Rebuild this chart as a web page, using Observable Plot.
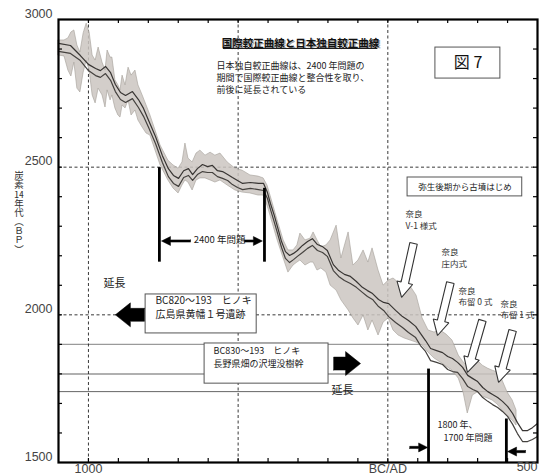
<!DOCTYPE html>
<html><head><meta charset="utf-8">
<script src="https://cdn.jsdelivr.net/npm/d3@7"></script>
<script src="https://cdn.jsdelivr.net/npm/@observablehq/plot@0.6"></script>
<style>
body{margin:0;background:#fff;}
#wrap{position:relative;width:552px;height:475px;}
#ylabel{position:absolute;left:13px;top:171px;width:12px;writing-mode:vertical-rl;
  font-family:'Noto Sans CJK JP',sans-serif;font-size:9.5px;line-height:12px;letter-spacing:-0.4px;color:#333;}
#ylabel .tcy{text-combine-upright:all;}
</style>
</head><body><div id="wrap"><div id="chart"></div><div id="ylabel"></div></div>
<script>
// ---- data (calendar year: BC negative; radiocarbon age BP) ----
const curveYears = [-1100,-1060,-1027,-1000,-976,-960,-943,-926,-910,-893,-876,-853,-833,-816,-799,-776,-753,-733,-716,-699,-682,-666,-652,-636,-619,-602,-586,-569,-552,-535,-519,-502,-485,-459,-432,-415,-402,-392,-379,-368,-355,-342,-328,-315,-302,-285,-268,-252,-235,-218,-202,-182,-164,-145,-125,-105,-85,-68,-51,-31,-14,3,26,49,69,93,109,126,143,163,183,200,216,233,250,267,284,300,317,334,350,367,383,400,417,433,450,467,483,500];
const curveUpper = [2919,2912,2878,2848,2834,2827,2841,2820,2780,2753,2743,2756,2729,2699,2658,2604,2539,2495,2472,2462,2488,2495,2475,2495,2509,2502,2506,2488,2485,2475,2465,2455,2445,2448,2445,2445,2414,2377,2336,2296,2248,2214,2201,2208,2218,2235,2248,2258,2238,2231,2218,2170,2150,2137,2130,2113,2093,2082,2072,2052,2042,2038,2015,1994,1981,1961,1937,1913,1886,1879,1872,1859,1852,1839,1822,1795,1784,1774,1754,1740,1730,1720,1707,1690,1666,1635,1608,1608,1618,1632];
const curveLower = [2892,2885,2861,2827,2810,2804,2817,2794,2756,2729,2719,2732,2702,2672,2634,2580,2516,2468,2445,2435,2465,2472,2455,2475,2485,2482,2482,2468,2462,2455,2441,2431,2424,2428,2424,2421,2394,2357,2313,2275,2228,2191,2177,2187,2198,2211,2225,2235,2218,2211,2198,2150,2130,2116,2106,2093,2076,2062,2052,2028,2015,1994,1974,1957,1940,1923,1896,1876,1845,1839,1832,1815,1808,1805,1784,1757,1747,1740,1720,1707,1696,1686,1673,1656,1629,1598,1571,1571,1578,1588];

const bandYears = [-1100,-1080,-1067,-1057,-1047,-1037,-1027,-1016,-1006,-996,-986,-976,-966,-953,-943,-936,-926,-920,-910,-900,-893,-886,-876,-866,-856,-843,-833,-819,-806,-793,-759,-733,-716,-699,-686,-676,-666,-652,-639,-626,-609,-592,-576,-559,-535,-509,-485,-459,-432,-415,-402,-392,-368,-348,-332,-315,-302,-292,-275,-258,-248,-235,-222,-205,-191,-171,-155,-131,-115,-98,-81,-65,-51,-31,-14,3,19,36,56,76,96,116,136,156,176,196,216,237,253,267,284,300,317,334,350,367,383,400,417,430];
const bandHigh = [2929,2929,2936,2956,2963,2912,2888,2953,2986,2956,2878,2861,2905,2854,2827,2895,2871,2871,2794,2777,2760,2810,2777,2837,2810,2827,2777,2743,2709,2675,2573,2522,2506,2495,2516,2580,2529,2516,2546,2556,2539,2549,2539,2546,2516,2495,2488,2472,2468,2462,2438,2404,2319,2252,2218,2218,2235,2275,2252,2258,2279,2252,2228,2235,2252,2302,2191,2279,2167,2184,2218,2177,2225,2150,2099,2116,2123,2109,2123,2096,2065,1988,1947,1940,1947,1933,1913,1862,1839,1825,1832,1845,1828,1818,1811,1805,1778,1737,1710,1676];
const bandLow = [2878,2875,2827,2807,2854,2766,2753,2820,2861,2827,2743,2716,2766,2743,2702,2760,2726,2743,2699,2675,2668,2709,2699,2726,2675,2692,2658,2634,2614,2607,2506,2455,2428,2411,2438,2455,2448,2421,2455,2462,2462,2455,2448,2455,2438,2421,2414,2411,2404,2404,2370,2336,2252,2191,2143,2167,2177,2184,2167,2177,2177,2150,2157,2143,2099,2082,2049,2015,1988,1964,1998,1947,1981,1930,1974,1988,1947,1930,1920,1913,1906,1896,1872,1852,1839,1825,1811,1784,1737,1666,1727,1737,1723,1717,1710,1696,1676,1659,1642,1625];

const gridYears = [-1000, -500, 0];
const gridBP = [2500, 2000];
const refLines = [1900, 1800, 1740];
const xMinorTicks = d3.range(-1000, 500, 100);
const yMinorTicks = d3.range(1600, 3000, 100);
const yTickLabels = [3000, 2500, 2000, 1500];
const xTickYears = [-1000, 0];
const xTickNames = ["1000", "BC/AD"];
const xEndYear = 500, xEndName = "500";
const yTitleParts = ["炭素", "14", "年代（ＢＰ）"];

// annotations (data coordinates)
const problemBars = [
  {x: -763, top: 2500, bottom: 2180},
  {x: -412, top: 2430, bottom: 2180},
  {x: 136, top: 1818, bottom: 1500},
  {x: 396, top: 1649, bottom: 1500}
];
const smallArrows = [
  {x1: -659, y1: 2250, x2: -756, y2: 2250},
  {x1: -479, y1: 2250, x2: -419, y2: 2250},
  {x1: 73, y1: 1551, x2: 133, y2: 1551},
  {x1: 460, y1: 1537, x2: 400, y2: 1537}
];
const blockArrows = [
  {x1: -813, y1: 2000, x2: -910, y2: 2000},
  {x1: -181, y1: 1835, x2: -91, y2: 1835}
];
const hollowArrows = [
  {x1: 86, y1: 2242, x2: 46, y2: 2059},
  {x1: 209, y1: 2109, x2: 166, y2: 1930},
  {x1: 316, y1: 1981, x2: 266, y2: 1805},
  {x1: 417, y1: 1947, x2: 370, y2: 1771}
];
const boxes = [
  {x1: 159, x2: 376, y1: 2800, y2: 2905},
  {x1: 66, x2: 449, y1: 2401, y2: 2465},
  {x1: -809, x2: -438, y1: 1937, y2: 2069},
  {x1: -612, x2: -198, y1: 1767, y2: 1903}
];
const naraLabels = [
  {x: 59, y: 2323, t: "奈良\nV-1 様式"},
  {x: 179, y: 2194, t: "奈良\n庄内式"},
  {x: 236, y: 2065, t: "奈良\n布留 0 式"},
  {x: 376, y: 2021, t: "奈良\n布留 1 式"}
];

// ---- build ----
const X0 = -1100, X1 = 500, Y0 = 1500, Y1 = 3000;
const mL = 58, mR = 15, mT = 19, mB = 13, W = 552, H = 475;
const kx = (W - mL - mR) / (X1 - X0);
const ky = (H - mT - mB) / (Y1 - Y0);

function arrowShape(id, a, w, h, L) {
  const px = (a.x2 - a.x1) * kx, py = -(a.y2 - a.y1) * ky;
  const len = Math.hypot(px, py), ux = px / len, uy = py / len, nx = -uy, ny = ux;
  const bx = px - ux * L, by = py - uy * L;
  const pts = [[nx*w, ny*w], [bx+nx*w, by+ny*w], [bx+nx*h, by+ny*h], [px, py],
               [bx-nx*h, by-ny*h], [bx-nx*w, by-ny*w], [-nx*w, -ny*w], [nx*w, ny*w]];
  return pts.map(([rx, ry]) => ({id, x: a.x1 + rx / kx, y: a.y1 - ry / ky}));
}

const curve = curveYears.map((x, i) => ({x, upper: curveUpper[i], lower: curveLower[i]}));
const band = bandYears.map((x, i) => ({x, hi: bandHigh[i], lo: bandLow[i]}));
const smallPts = smallArrows.flatMap((a, i) => arrowShape(i, a, 1.1, 4.5, 9));
const blockPts = blockArrows.flatMap((a, i) => arrowShape(i, a, 6.5, 12, 15));
const hollowPts = hollowArrows.flatMap((a, i) => arrowShape(i, a, 3.8, 8, 15));

const jp = "'Noto Sans CJK JP', 'Noto Sans', sans-serif";
const narrow = "'Liberation Sans Narrow', 'Arial Narrow', 'Liberation Sans', sans-serif";

const chart = Plot.plot({
  width: W, height: H,
  marginLeft: mL, marginRight: mR, marginTop: mT, marginBottom: mB,
  x: {domain: [X0, X1], axis: null},
  y: {domain: [Y0, Y1], axis: null},
  style: {background: "white", fontFamily: jp},
  marks: [
    Plot.ruleY([refLines[0]], {stroke: "#9a9a9a", strokeWidth: 1.3}),
    Plot.ruleY([refLines[1]], {stroke: "#b0b0b0", strokeWidth: 2}),
    Plot.ruleY([refLines[2]], {stroke: "#666", strokeWidth: 1}),
    Plot.ruleX(gridYears, {stroke: "#222", strokeWidth: 0.9, strokeDasharray: "3,2.5"}),
    Plot.ruleY(gridBP, {stroke: "#222", strokeWidth: 0.9, strokeDasharray: "3,2.5"}),
    Plot.areaY(band, {x: "x", y1: "lo", y2: "hi", fill: "#cbc6c1", fillOpacity: 0.85, stroke: "#a39d97", strokeWidth: 0.6}),
    Plot.line(curve, {x: "x", y: "upper", stroke: "#383533", strokeWidth: 1.2}),
    Plot.line(curve, {x: "x", y: "lower", stroke: "#44413e", strokeWidth: 1.2}),
    Plot.rect(boxes, {x1: "x1", x2: "x2", y1: "y1", y2: "y2", fill: "white", stroke: "#555", strokeWidth: 1}),
    // title
    Plot.text([{x: -292, y: 2919, t: "国際較正曲線と日本独自較正曲線"}], {x: "x", y: "y", text: "t", fontSize: 10.5, fontWeight: "bold", fill: "#aaa", dx: 1.5, dy: 1.5}),
    Plot.text([{x: -292, y: 2919, t: "国際較正曲線と日本独自較正曲線"}], {x: "x", y: "y", text: "t", fontSize: 10.5, fontWeight: "bold", fill: "#111"}),
    Plot.ruleY([{y: 2902, a: -549, b: -34}], {y: "y", x1: "a", x2: "b", stroke: "#111", strokeWidth: 1}),
    Plot.text([{x: -572, y: 2804, t: "日本独自較正曲線は、2400 年問題の\n期間で国際較正曲線と整合性を取り、\n前後に延長されている"}],
      {x: "x", y: "y", text: "t", textAnchor: "start", fontSize: 9, lineHeight: 1.3, fill: "#222"}),
    Plot.text([{x: 268, y: 2852, t: "図 7"}], {x: "x", y: "y", text: "t", fontSize: 16, fill: "#111"}),
    Plot.text([{x: 258, y: 2433, t: "弥生後期から古墳はじめ"}], {x: "x", y: "y", text: "t", fontSize: 8.5, fill: "#222"}),
    Plot.text(naraLabels, {x: "x", y: "y", text: "t", textAnchor: "start", fontSize: 8.5, lineHeight: 1.38, fill: "#333"}),
    Plot.text([{x: -913, y: 2106, t: "延長"}, {x: -151, y: 1744, t: "延長"}], {x: "x", y: "y", text: "t", fontSize: 11, fill: "#222"}),
    Plot.text([{x: -776, y: 2028, t: "BC820～193　ヒノキ\n広島県黄幡１号遺跡"}], {x: "x", y: "y", text: "t", textAnchor: "start", fontSize: 10, lineHeight: 1.38, fill: "#222"}),
    Plot.text([{x: -582, y: 1859, t: "BC830～193　ヒノキ\n長野県畑の沢埋没樹幹"}], {x: "x", y: "y", text: "t", textAnchor: "start", fontSize: 9, lineHeight: 1.38, fill: "#222"}),
    Plot.text([{x: -562, y: 2252, t: "2400 年問題"}], {x: "x", y: "y", text: "t", fontSize: 9.5, fill: "#222"}),
    Plot.text([{x: 166, y: 1627, t: "1800 年、"}, {x: 186, y: 1584, t: "1700 年問題"}], {x: "x", y: "y", text: "t", textAnchor: "start", fontSize: 9, fill: "#222"}),
    Plot.link(problemBars, {x1: "x", x2: "x", y1: "top", y2: "bottom", stroke: "#000", strokeWidth: 2.8}),
    Plot.line(smallPts, {x: "x", y: "y", z: "id", fill: "#000", stroke: "#000", strokeWidth: 0.5}),
    Plot.line(blockPts, {x: "x", y: "y", z: "id", fill: "#000", stroke: "#000", strokeWidth: 0.5}),
    Plot.line(hollowPts, {x: "x", y: "y", z: "id", fill: "white", stroke: "#333", strokeWidth: 1.1, strokeLinejoin: "miter"}),
    // ticks
    Plot.tickY(yMinorTicks, {y: d => d, insetRight: W - mL - mR - 4, stroke: "#000", strokeWidth: 1.2}),
    Plot.tickY(yMinorTicks, {y: d => d, insetLeft: W - mL - mR - 4, stroke: "#000", strokeWidth: 1.2}),
    Plot.tickX(xMinorTicks, {x: d => d, insetBottom: H - mT - mB - 4, stroke: "#000", strokeWidth: 1.2}),
    Plot.tickX(xMinorTicks, {x: d => d, insetTop: H - mT - mB - 4, stroke: "#000", strokeWidth: 1.2}),
    Plot.frame({stroke: "#000", strokeWidth: 2.2}),
    Plot.text(yTickLabels, {y: d => d, text: d => String(d), frameAnchor: "left", textAnchor: "end", dx: -6, dy: -6, fontSize: 12.5, fill: "#444", fontFamily: narrow}),
    Plot.text(xTickYears, {x: d => d, text: (d, i) => xTickNames[i], frameAnchor: "bottom", dy: 10, fontSize: 12.5, fill: "#444", fontFamily: narrow}),
    Plot.text([xEndYear], {x: d => d, text: () => xEndName, frameAnchor: "bottom", textAnchor: "end", dy: 8, fontSize: 12.5, fill: "#444", fontFamily: narrow})
  ]
});
document.getElementById("chart").appendChild(chart);
// vertical (tategaki) y-axis title, "14" set horizontally within the column
const yl = d3.select("#ylabel");
yl.append("span").text(yTitleParts[0]);
yl.append("span").attr("class", "tcy").text(yTitleParts[1]);
yl.append("span").text(yTitleParts[2]);
</script>
</body></html>
